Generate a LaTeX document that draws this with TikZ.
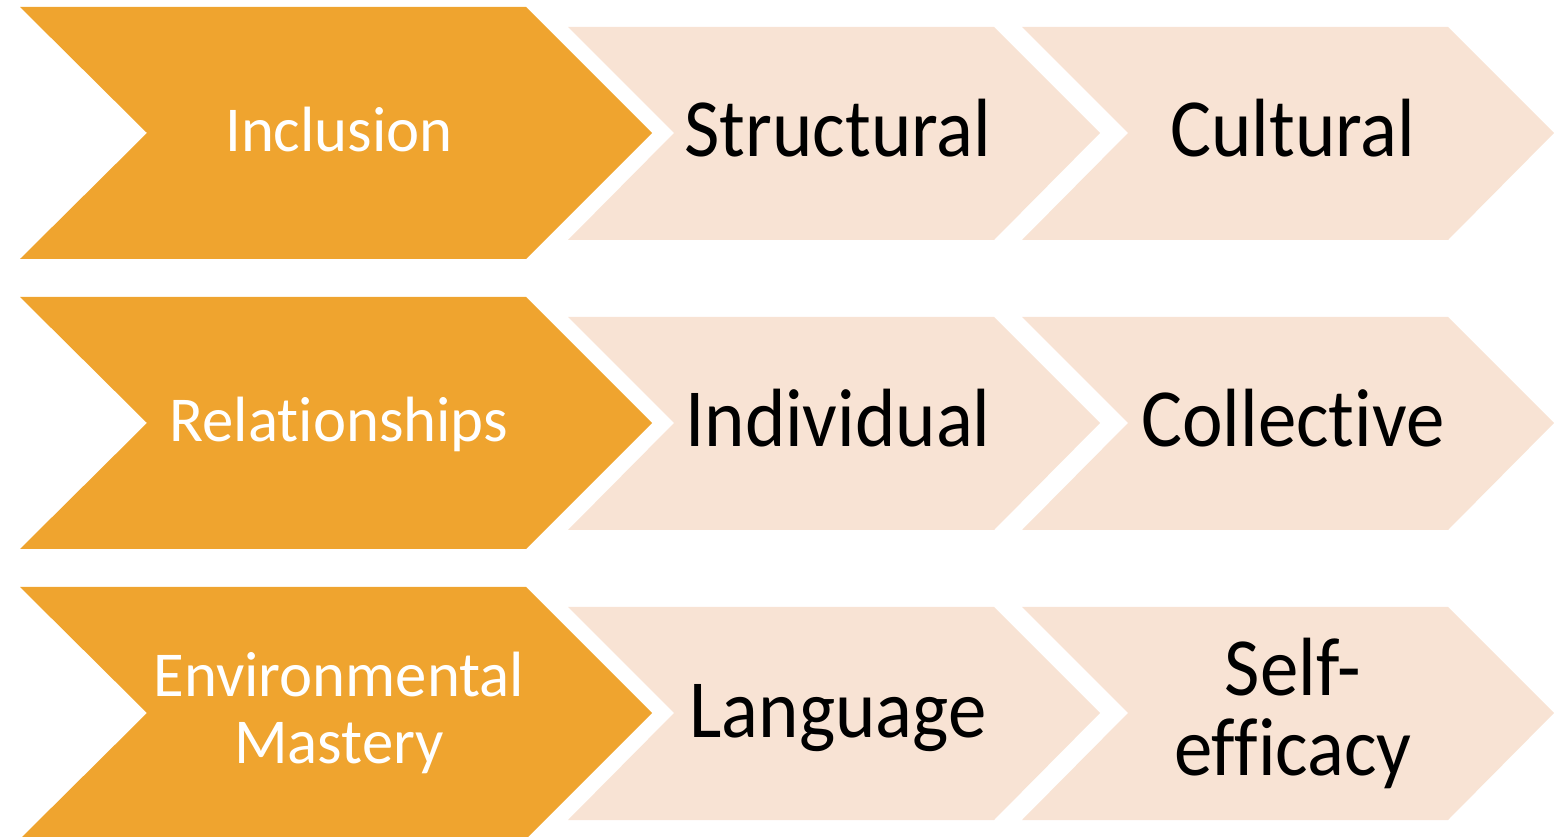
\documentclass[tikz,border=0pt]{standalone}
\usepackage{fontspec}
\setmainfont{Carlito}
\newfontfamily\lightlabelfont[FakeStretch=0.98,Ligatures=NoCommon]{Carlito}
\newfontfamily\darklabelfont[FakeStretch=0.93,Ligatures=NoCommon]{Carlito}
\definecolor{chevorange}{RGB}{239,164,47}
\definecolor{chevlight}{RGB}{248,227,212}
\begin{document}
\begin{tikzpicture}[x=0.75pt,y=-0.75pt,
  mainchev/.style={fill=chevorange},
  subchev/.style={fill=chevlight},
  whitelabel/.style={text=white,font=\lightlabelfont\fontsize{48}{50}\selectfont,align=center,inner sep=0pt},
  blacklabel/.style={text=black,font=\darklabelfont\fontsize{62}{60}\selectfont,align=center,inner sep=0pt}]
\useasboundingbox (0,0) rectangle (1561,837);
% three rows of chevrons, 290 px apart
\foreach \r in {0,1,2}{
  \begin{scope}[yshift=-\r*290*0.75pt]
    \fill[mainchev] (20,7) -- (526,7) -- (652,133) -- (526,259) -- (20,259) -- (147,133) -- cycle;
    \fill[subchev] (568,27) -- (994,27) -- (1100,133) -- (994,240) -- (568,240) -- (674,133) -- cycle;
    \fill[subchev] (1022,27) -- (1448,27) -- (1554,133) -- (1448,240) -- (1022,240) -- (1128,133) -- cycle;
  \end{scope}
}
% labels
\node[whitelabel,anchor=base] (inc) at (339,152) {Inclusion};
\node[blacklabel,anchor=base] (str) at (838,157) {Structural};
\node[blacklabel,anchor=base] (cul) at (1293,157) {Cultural};
\node[whitelabel,anchor=base] (rel) at (339,442) {Relationships};
\node[blacklabel,anchor=base] (ind) at (838,447) {Individual};
\node[blacklabel,anchor=base] (col) at (1293,447) {Collective};
\node[whitelabel] (env) at (339,713) {Environmental\\Mastery};
\node[blacklabel,anchor=base] (lan) at (838,737) {Language};
\node[blacklabel] (sel) at (1293,713) {Self-\\efficacy};
\end{tikzpicture}
\end{document}
